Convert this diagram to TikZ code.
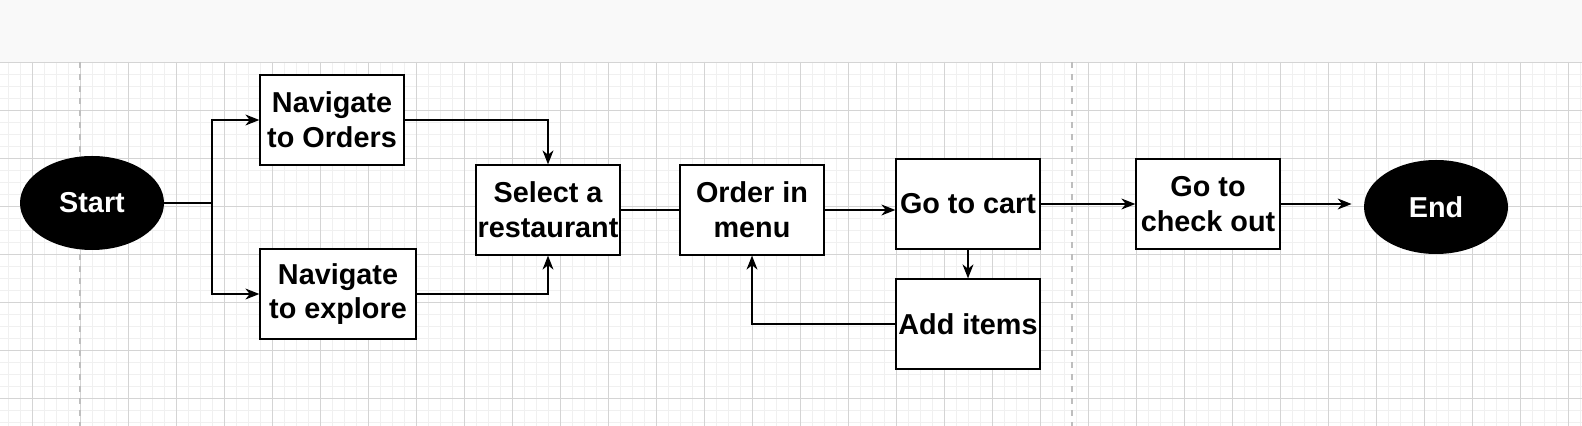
\documentclass[tikz,border=0pt]{standalone}
\usepackage{fontspec}
\setmainfont{Liberation Sans}
\usetikzlibrary{shapes.geometric,arrows.meta}
\definecolor{stripgray}{RGB}{249,249,249}
\definecolor{majorgrid}{RGB}{212,212,212}
\definecolor{minorgrid}{RGB}{240,240,240}
\definecolor{pagebreak}{RGB}{190,190,190}
\tikzset{process/.style={
    draw, line width=0.65pt, fill=white,
    minimum width=#1, minimum height=45pt,
    align=center, inner sep=0pt,
    font=\bfseries\fontsize{14.4}{17.3}\selectfont
  },
  process/.default=72pt,
  terminal/.style={
    ellipse, fill=black, text=white,
    minimum width=72pt, minimum height=47pt, inner sep=0pt,
    font=\bfseries\fontsize{14.4}{17.3}\selectfont
  },
  flow/.style={-{Stealth[length=7pt,width=5.5pt,inset=2.2pt]}, line width=0.6pt},
  link/.style={line width=0.6pt}
}

\begin{document}
\begin{tikzpicture}[x=0.5pt,y=-0.5pt]
    \useasboundingbox (0,0) rectangle (1582,426);
    % canvas
    \fill[stripgray] (0,0) rectangle (1582,62);
    \begin{scope}
        \clip (0,62) rectangle (1582,426);
        \foreach \x in {8,20,...,1580} \draw[minorgrid,line width=0.5pt] (\x,62) -- (\x,426);
        \foreach \y in {62.7,74.7,...,430} \draw[minorgrid,line width=0.5pt] (0,\y) -- (1582,\y);
        \foreach \x in {32,80,...,1580} \draw[majorgrid,line width=0.5pt] (\x,62) -- (\x,426);
        \foreach \y in {62.7,110.7,...,430} \draw[majorgrid,line width=0.5pt] (0,\y) -- (1582,\y);
    \end{scope}
    \draw[pagebreak,line width=1pt,dash pattern=on 3pt off 3pt] (80,62) -- (80,426);
    \draw[pagebreak,line width=1pt,dash pattern=on 3pt off 3pt] (1072,62) -- (1072,426);

    % flow
    \node[terminal] (start) at (92,203) {Start};
    \node[process] (orders) at (332,120) {Navigate\\to Orders};
    \node[process=78pt] (explore) at (338,294) {Navigate\\to explore};
    \node[process] (select) at (548,210) {Select a\\restaurant};
    \node[process] (order) at (752,210) {Order in\\menu};
    \node[process] (cart) at (968,204) {Go to cart};
    \node[process] (additems) at (968,324) {Add items};
    \node[process] (checkout) at (1208,204) {Go to\\check out};
    \node[terminal] (stop) at (1436,207) {End};

    \coordinate (split) at (212,203);
    \draw[flow] (start.east) -- (split) |- (orders.west);
    \draw[flow] (split) |- (explore.west);
    \draw[flow] (orders.east) -| (select.north);
    \draw[flow] (explore.east) -| (select.south);
    \draw[link] (select.east) -- (order.west);
    \draw[flow] (order.east) -- (order.east -| cart.west);
    \draw[flow] (cart.east) -- (checkout.west);
    \draw[flow] (cart.south) -- (additems.north);
    \draw[flow] (additems.west) -| (order.south);
    \draw[flow,shorten >=6pt] (checkout.east) -- (checkout.east -| stop.west);
\end{tikzpicture}
\end{document}
